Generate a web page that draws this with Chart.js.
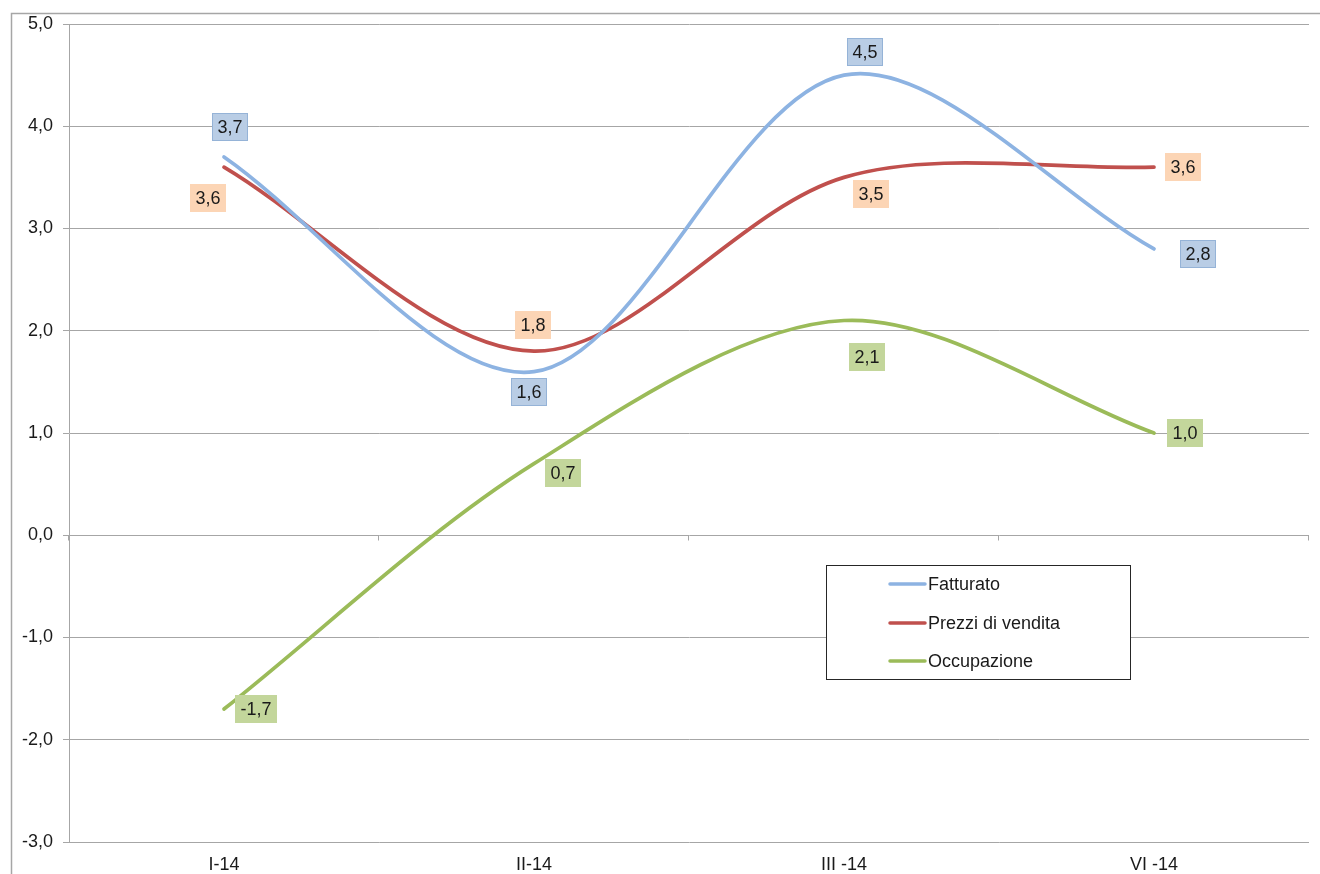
<!DOCTYPE html>
<html lang="it">
<head>
<meta charset="utf-8">
<title>Fatturato, prezzi di vendita e occupazione</title>
<script src="https://cdn.jsdelivr.net/npm/chart.js@4.4.1/dist/chart.umd.min.js"></script>
<style>
  html, body { margin: 0; padding: 0; background: #ffffff; }
  #wrap { width: 1320px; height: 874px; position: relative; }
  canvas { display: block; }
</style>
</head>
<body>
<div id="wrap"><canvas id="chart" width="1320" height="874"></canvas></div>
<script>
// Quarters on the horizontal axis
const categories = ['I-14', 'II-14', 'III -14', 'VI -14'];

// Series values (variazioni %)
const fatturato   = [3.7, 1.6, 4.5, 2.8];
const prezzi      = [3.6, 1.8, 3.5, 3.6];
const occupazione = [-1.7, 0.7, 2.1, 1.0];

// Value axis range and step
const yMin = -3;
const yMax = 5;
const yStep = 1;

const FONT = '"Liberation Sans", Arial, sans-serif';
const FONT_SIZE = 18;
const TEXT = '#1a1a1a';
const GRID = '#a6a6a6';

const fmt = v => v.toFixed(1).replace('.', ',');

// Label box placement (offset from the point) and colours, per series
const labelStyles = [
  { fill: '#b9cde5', stroke: '#95b3d7', offsets: [[6, -30], [-5, 20], [21, -23], [44, 5]] },
  { fill: '#fcd5b5', stroke: null,      offsets: [[-16, 31], [-1, -26], [27, 17], [29, 0]] },
  { fill: '#c3d69b', stroke: null,      offsets: [[32, 0], [29, 9], [23, 36], [31, 0]] }
];

// White page with the outer chart frame
const framePlugin = {
  id: 'frame',
  beforeDraw(chart) {
    const ctx = chart.ctx;
    ctx.save();
    ctx.fillStyle = '#ffffff';
    ctx.fillRect(0, 0, chart.width, chart.height);
    ctx.strokeStyle = '#a6a6a6';
    ctx.lineWidth = 1.5;
    ctx.beginPath();
    ctx.moveTo(11.5, chart.height + 5);
    ctx.lineTo(11.5, 13.5);
    ctx.lineTo(chart.width + 5, 13.5);
    ctx.stroke();
    ctx.restore();
  }
};

// Category boundary tick marks hanging from the zero line
const zeroTicksPlugin = {
  id: 'zeroTicks',
  beforeDatasetsDraw(chart) {
    const x = chart.scales.x, y = chart.scales.y;
    const y0 = Math.round(y.getPixelForValue(0)) + 0.5;
    const ctx = chart.ctx;
    ctx.save();
    ctx.strokeStyle = GRID;
    ctx.lineWidth = 1;
    ctx.beginPath();
    for (let i = 0; i <= categories.length; i++) {
      const px = Math.round(x.getPixelForValue(i - 0.5)) - 0.5;
      ctx.moveTo(px, y0);
      ctx.lineTo(px, y0 + 5);
    }
    ctx.stroke();
    ctx.restore();
  }
};

// Boxed value labels next to each point
const valueLabelsPlugin = {
  id: 'valueLabels',
  afterDatasetsDraw(chart) {
    const ctx = chart.ctx;
    ctx.save();
    ctx.font = FONT_SIZE + 'px ' + FONT;
    ctx.textAlign = 'center';
    ctx.textBaseline = 'middle';
    chart.data.datasets.forEach((ds, i) => {
      const meta = chart.getDatasetMeta(i);
      const st = labelStyles[i];
      meta.data.forEach((pt, j) => {
        const text = fmt(ds.data[j]);
        const cx = pt.x + st.offsets[j][0];
        const cy = pt.y + st.offsets[j][1];
        const w = Math.round(ctx.measureText(text).width + 11);
        const h = 28;
        const bx = Math.round(cx - w / 2), by = Math.round(cy - h / 2);
        ctx.fillStyle = st.fill;
        ctx.fillRect(bx, by, w, h);
        if (st.stroke) {
          ctx.strokeStyle = st.stroke;
          ctx.lineWidth = 1;
          ctx.strokeRect(bx + 0.5, by + 0.5, w - 1, h - 1);
        }
        ctx.fillStyle = TEXT;
        ctx.fillText(text, bx + w / 2, by + h / 2 + 1);
      });
    });
    ctx.restore();
  }
};

// Framed legend inside the plot area
const boxLegendPlugin = {
  id: 'boxLegend',
  afterDraw(chart) {
    const ctx = chart.ctx;
    const box = { x: 826.5, y: 565.5, w: 304, h: 114 };
    const rows = [584, 623, 661];
    ctx.save();
    ctx.fillStyle = '#ffffff';
    ctx.fillRect(box.x, box.y, box.w, box.h);
    ctx.strokeStyle = '#262626';
    ctx.lineWidth = 1;
    ctx.strokeRect(box.x, box.y, box.w, box.h);
    ctx.font = FONT_SIZE + 'px ' + FONT;
    ctx.textAlign = 'left';
    ctx.textBaseline = 'middle';
    chart.data.datasets.forEach((ds, i) => {
      const y = rows[i];
      ctx.strokeStyle = ds.borderColor;
      ctx.lineWidth = 3.5;
      ctx.lineCap = 'round';
      ctx.beginPath();
      ctx.moveTo(890, y);
      ctx.lineTo(925, y);
      ctx.stroke();
      ctx.fillStyle = TEXT;
      ctx.fillText(ds.label, 928, y + 1);
    });
    ctx.restore();
  }
};

const lineStyle = {
  borderWidth: 3.7,
  pointRadius: 0,
  pointHoverRadius: 0,
  tension: 0.32,
  borderCapStyle: 'round',
  borderJoinStyle: 'round',
  fill: false
};

new Chart(document.getElementById('chart'), {
  type: 'line',
  data: {
    labels: categories,
    datasets: [
      Object.assign({ label: 'Fatturato', data: fatturato, borderColor: '#8db3e2' }, lineStyle),
      Object.assign({ label: 'Prezzi di vendita', data: prezzi, borderColor: '#c0504d' }, lineStyle),
      Object.assign({ label: 'Occupazione', data: occupazione, borderColor: '#9bbb59' }, lineStyle)
    ]
  },
  options: {
    responsive: false,
    devicePixelRatio: 1,
    animation: false,
    events: [],
    layout: { padding: { left: 0, top: 24, right: 11, bottom: 0 } },
    plugins: {
      legend: { display: false },
      tooltip: { enabled: false },
      title: { display: false }
    },
    scales: {
      x: {
        offset: true,
        grid: { display: false, drawTicks: false },
        border: { display: false },
        ticks: {
          color: TEXT,
          font: { family: FONT, size: FONT_SIZE },
          padding: 12,
          maxRotation: 0
        },
        afterFit(scale) { scale.height = 32; }
      },
      y: {
        min: yMin,
        max: yMax,
        grid: { color: GRID, lineWidth: 1, tickLength: 6, drawTicks: true },
        border: { display: true, color: GRID, width: 1 },
        ticks: {
          stepSize: yStep,
          color: TEXT,
          font: { family: FONT, size: FONT_SIZE },
          padding: 10,
          callback: v => fmt(v)
        },
        afterFit(scale) { scale.width = 69; }
      }
    }
  },
  plugins: [framePlugin, zeroTicksPlugin, valueLabelsPlugin, boxLegendPlugin]
});
</script>
</body>
</html>
